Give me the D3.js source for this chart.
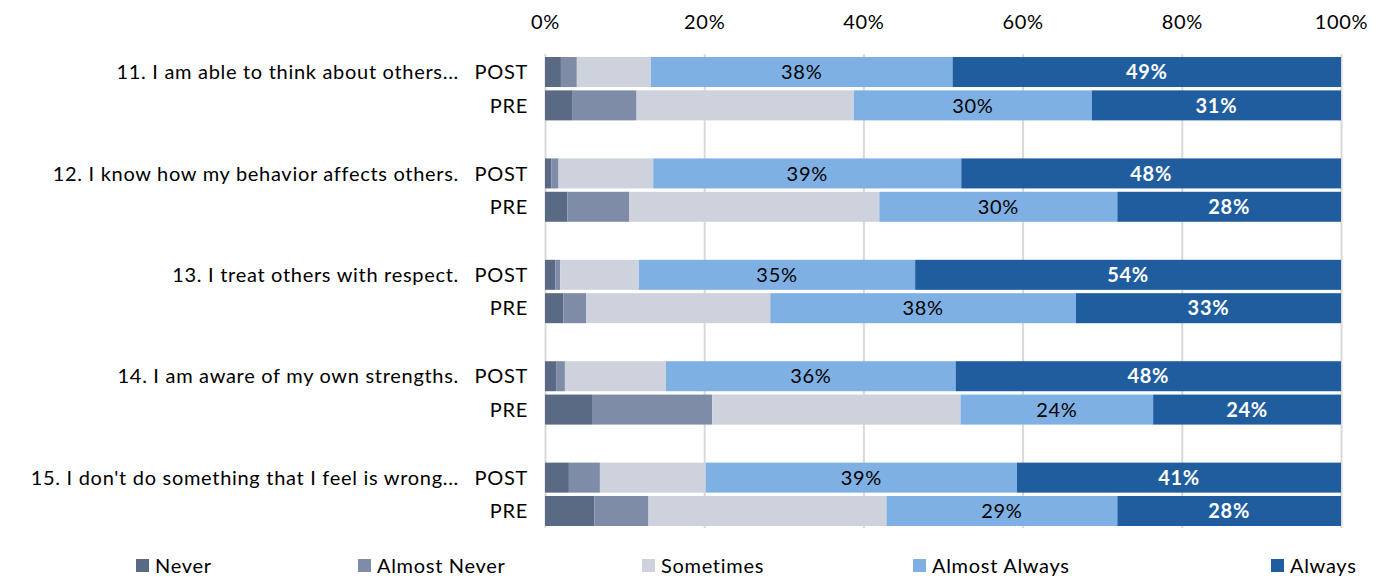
<!DOCTYPE html>
<html>
<head>
<meta charset="utf-8">
<script src="https://cdn.jsdelivr.net/npm/d3@7"></script>
<style>
  body { margin: 0; background: #fff; }
  text { font-family: Lato, "Open Sans", sans-serif; letter-spacing: 0.7px; }
</style>
</head>
<body>
<div id="chart"></div>
<script>
// questions and survey rounds
var questions = [
    "11. I am able to think about others...",
    "12. I know how my behavior affects others.",
    "13. I treat others with respect.",
    "14. I am aware of my own strengths.",
    "15. I don't do something that I feel is wrong..."
];
var rounds = ["POST", "PRE"];
var responses = ["Never", "Almost Never", "Sometimes", "Almost Always", "Always"];

// percentages per question, [POST, PRE]
var never        = [[2.0, 3.4], [0.8, 2.8], [1.3, 2.3], [1.4, 6.0], [3.0, 6.2]];
var almostNever  = [[2.0, 8.1], [0.9, 7.8], [0.6, 2.9], [1.1, 15.0], [3.9, 6.8]];
var sometimes    = [[9.3, 27.3], [11.9, 31.4], [9.9, 23.1], [12.7, 31.2], [13.3, 29.9]];
var almostAlways = [[37.9, 29.9], [38.7, 29.9], [34.7, 38.4], [36.4, 24.2], [39.1, 29.0]];
var always       = [[48.8, 31.3], [47.7, 28.1], [53.5, 33.3], [48.4, 23.6], [40.7, 28.1]];

var xTicks = [0, 20, 40, 60, 80, 100];

var colors = ["#5a6a85", "#7f8ca8", "#cdd2dd", "#7eb0e4", "#1f5d9f"];

var width = 1386, height = 578;
var margin = {left: 545, right: 45};
var fontSize = 20;

var svg = d3.select("#chart")
    .append("svg")
        .attr("width", width)
        .attr("height", height);

var x = d3.scaleLinear()
    .domain([0, 100])
    .range([margin.left, width - margin.right]);

var yGroup = d3.scaleBand()
    .domain(questions)
    .range([38, 545])
    .paddingInner(0.375)
    .paddingOuter(0.1875);

var yRound = d3.scaleBand()
    .domain(rounds)
    .range([0, yGroup.bandwidth()])
    .paddingInner(0.1);

var seriesVals = [never, almostNever, sometimes, almostAlways, always];

// build rows: one per question x round
var rows = [];
questions.forEach(function(q, qi){
    rounds.forEach(function(r, ri){
        var row = {question: q, round: r};
        responses.forEach(function(resp, si){ row[resp] = seriesVals[si][qi][ri]; });
        rows.push(row);
    });
});

var stacked = d3.stack().keys(responses)(rows);

// gridlines
svg.append("g")
    .selectAll("line")
    .data(xTicks)
    .enter()
    .append("line")
        .attr("x1", d => x(d) + 0.5)
        .attr("x2", d => x(d) + 0.5)
        .attr("y1", 54)
        .attr("y2", 528)
        .attr("stroke", "#d9d9d9")
        .attr("stroke-width", 2);

// top axis
var xAxis = d3.axisTop(x)
    .tickValues(xTicks)
    .tickSize(0)
    .tickFormat(d => d + "%");

svg.append("g")
    .attr("transform", "translate(0,32)")
    .call(xAxis)
    .call(g => g.select(".domain").remove())
    .selectAll("text")
        .attr("font-size", fontSize)
        .attr("font-family", "Lato, sans-serif")
        .attr("fill", "#000");

// bars
var layers = svg.append("g")
    .selectAll("g")
    .data(stacked)
    .enter()
    .append("g")
        .attr("fill", (d, i) => colors[i]);

layers.selectAll("rect")
    .data(d => d)
    .enter()
    .append("rect")
        .attr("x", d => x(d[0]))
        .attr("width", d => x(d[1]) - x(d[0]))
        .attr("y", d => yGroup(d.data.question) + yRound(d.data.round))
        .attr("height", yRound.bandwidth());

// value labels for Almost Always and Always
stacked.forEach(function(layer, i){
    if (i < 3) return;
    svg.append("g")
        .selectAll("text")
        .data(layer)
        .enter()
        .append("text")
            .text(d => Math.round(d[1] - d[0]) + "%")
            .attr("x", d => (x(d[0]) + x(d[1])) / 2)
            .attr("y", d => yGroup(d.data.question) + yRound(d.data.round) + yRound.bandwidth() / 2)
            .attr("dy", "0.36em")
            .attr("text-anchor", "middle")
            .attr("font-size", fontSize)
            .attr("font-weight", i == 4 ? "bold" : "normal")
            .attr("fill", i == 4 ? "#fff" : "#000");
});

// round labels
svg.append("g")
    .selectAll("text")
    .data(rows)
    .enter()
    .append("text")
        .text(d => d.round)
        .attr("x", 528)
        .attr("y", d => yGroup(d.question) + yRound(d.round) + yRound.bandwidth() / 2)
        .attr("dy", "0.36em")
        .attr("text-anchor", "end")
        .attr("font-size", fontSize);

// question labels
svg.append("g")
    .selectAll("text")
    .data(questions)
    .enter()
    .append("text")
        .text(d => d)
        .attr("x", 459)
        .attr("y", d => yGroup(d) + yRound("POST") + yRound.bandwidth() / 2)
        .attr("dy", "0.36em")
        .attr("text-anchor", "end")
        .attr("font-size", fontSize);

// legend
var legendX = [136, 358, 642, 913, 1271];
var legend = svg.append("g")
    .selectAll("g")
    .data(responses)
    .enter()
    .append("g")
        .attr("transform", (d, i) => "translate(" + legendX[i] + ",559)");

legend.append("rect")
    .attr("width", 13)
    .attr("height", 13)
    .attr("fill", (d, i) => colors[i]);

legend.append("text")
    .text(d => d)
    .attr("x", 19)
    .attr("y", 7)
    .attr("dy", "0.36em")
    .attr("font-size", fontSize);
</script>
</body>
</html>
